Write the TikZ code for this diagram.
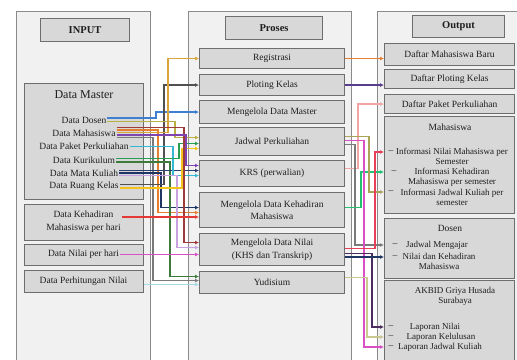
\documentclass[tikz,border=0pt]{standalone}
\usepackage{fontspec}
\setmainfont{Liberation Serif}
\usetikzlibrary{arrows.meta}
\definecolor{colframe}{HTML}{8A8A8A}
\definecolor{colpanel}{HTML}{F1F1F1}
\definecolor{colbox}{HTML}{6E6E6E}
\definecolor{colfill}{HTML}{D8D8D8}
\definecolor{coltext}{HTML}{1E1E1E}
\definecolor{cgold}{HTML}{D9A43A}
\definecolor{cdgray}{HTML}{505050}
\definecolor{cblue}{HTML}{3F7FCF}
\definecolor{colive}{HTML}{B8B040}
\definecolor{cgreen}{HTML}{2A9D55}
\definecolor{cyellow}{HTML}{F2C31B}
\definecolor{cpurple}{HTML}{7E44B0}
\definecolor{cnavy}{HTML}{2C3E70}
\definecolor{ccyan}{HTML}{35B9D3}
\definecolor{cnavyb}{HTML}{1F3566}
\definecolor{corange}{HTML}{E67E30}
\definecolor{cred}{HTML}{E53935}
\definecolor{cbrown}{HTML}{9E3B3B}
\definecolor{clav}{HTML}{C8A2E0}
\definecolor{cmagenta}{HTML}{D94FC4}
\definecolor{cdkgreen}{HTML}{3D7B3D}
\definecolor{cgray}{HTML}{7A7A7A}
\definecolor{clcyan}{HTML}{A6DBE6}
\definecolor{cpink}{HTML}{F3A5A5}
\definecolor{cviolet}{HTML}{5A3D8C}
\definecolor{colive2}{HTML}{A9A45A}
\definecolor{colive3}{HTML}{C9C98F}
\definecolor{cdkpurple}{HTML}{4B2C5E}
\definecolor{cgreen2}{HTML}{22C070}
\definecolor{cred2}{HTML}{E8405A}
\begin{document}
\begin{tikzpicture}[x=1pt,y=-1pt,
  font=\fontsize{9.5}{11}\selectfont,
  column/.style={draw=colframe, fill=colpanel, line width=1.1pt, anchor=north west, inner sep=0pt},
  box/.style={draw=colbox, fill=colfill, line width=1.1pt, anchor=north west, inner sep=0pt,
    text=coltext, align=center},
  lbl/.style={inner sep=1pt, text=coltext, align=center},
  bullet/.style={inner sep=0pt, text=coltext},
  wire/.style={line width=1.5pt, -{Latex[length=4pt,width=4pt]}},
  twoline/.style={font=\fontsize{9.5}{12.5}\selectfont},
  small/.style={font=\fontsize{9}{10.2}\selectfont},
  heading/.style={font=\fontsize{10.5}{12}\selectfont\bfseries},
]
\useasboundingbox (0,0) rectangle (517,359);
\clip (0,0) rectangle (517,359);
\fill[white] (0,0) rectangle (517,359);

% ---------- columns ----------
\node[column, minimum width=134pt, minimum height=354pt] (incol) at (16,11) {};
\node[column, minimum width=163pt, minimum height=354pt] (pcol) at (188,11) {};
\node[column, minimum width=145pt, minimum height=354pt] (ocol) at (377,11) {};

% ---------- INPUT ----------
\node[box, heading, minimum width=89pt, minimum height=23pt] (intitle) at (40,18) {INPUT};
\node[box, minimum width=119pt, minimum height=116pt] (dmbox) at (24,83) {};
\node[lbl, font=\fontsize{12}{14}\selectfont] (dmlabel) at (84,95) {Data Master};
\node[lbl] (idos) at (84,120) {Data Dosen};
\node[lbl] (imhs) at (84,133.3) {Data Mahasiswa};
\node[lbl] (ipkt) at (84,146.6) {Data Paket Perkuliahan};
\node[lbl] (ikur) at (84,159.9) {Data Kurikulum};
\node[lbl] (imk) at (84,173.2) {Data Mata Kuliah};
\node[lbl] (irk) at (84,186.5) {Data Ruang Kelas};
\node[box, minimum width=119pt, minimum height=36pt] (kehbox) at (24,204) {};
\node[lbl, twoline] (ikeh) at (83.5,221.5) {Data Kehadiran\\Mahasiswa per hari};
\node[box, minimum width=119pt, minimum height=21pt] (nphbox) at (24,244) {};
\node[lbl] (inph) at (83.5,254.5) {Data Nilai per hari};
\node[box, minimum width=119pt, minimum height=22pt] (perbox) at (24,270) {};
\node[lbl] (iper) at (83.5,281) {Data Perhitungan Nilai};

% ---------- Proses ----------
\node[box, heading, minimum width=97pt, minimum height=23pt] (ptitle) at (225,16) {Proses};
\node[box, minimum width=145pt, minimum height=20pt] (reg) at (199,48) {Registrasi};
\node[box, minimum width=145pt, minimum height=21pt] (plot) at (199,74) {Ploting Kelas};
\node[box, minimum width=145pt, minimum height=23pt] (mdm) at (199,100) {Mengelola Data Master};
\node[box, minimum width=145pt, minimum height=28pt] (jad) at (199,127) {Jadwal Perkuliahan};
\node[box, minimum width=145pt, minimum height=26pt] (krs) at (199,160) {KRS (perwalian)};
\node[box, twoline, minimum width=145pt, minimum height=35pt] (keh) at (199,192) {Mengelola Data Kehadiran\\Mahasiswa};
\node[box, twoline, minimum width=145pt, minimum height=32pt] (nil) at (199,233) {Mengelola Data Nilai\\(KHS dan Transkrip)};
\node[box, minimum width=145pt, minimum height=22pt] (yud) at (199,271) {Yudisium};

% ---------- Output ----------
\node[box, heading, minimum width=92pt, minimum height=22pt] (otitle) at (412,15) {Output};
\node[box, minimum width=130pt, minimum height=22pt] (dmb) at (384,43) {Daftar Mahasiswa Baru};
\node[box, minimum width=130pt, minimum height=19pt] (dpk) at (384,69) {Daftar Ploting Kelas};
\node[box, minimum width=130pt, minimum height=19pt] (dpp) at (384,94) {Daftar Paket Perkuliahan};

\node[box, minimum width=130pt, minimum height=97pt] (mbox) at (384,116) {};
\node[lbl] (mlabel) at (450,127) {Mahasiswa};
\node[lbl, small] (om1) at (452,156.5) {Informasi Nilai Mahasiswa per\\Semester};
\node[lbl, small] (om2) at (452,177) {Informasi Kehadiran\\Mahasiswa per semester};
\node[lbl, small] (om3) at (452,197.5) {Informasi Jadwal Kuliah per\\semester};
\node[bullet] (d1) at (391,152) {--};
\node[bullet] (d2) at (394,172) {--};
\node[bullet] (d3) at (391,192) {--};

\node[box, minimum width=130pt, minimum height=60pt] (dbox) at (384,218) {};
\node[lbl] (dlabel) at (450,228.5) {Dosen};
\node[lbl, small] (od1) at (437,245) {Jadwal Mengajar};
\node[lbl, small] (od2) at (439,261.5) {Nilai dan Kehadiran\\Mahasiswa};
\node[bullet] (d4) at (395,245) {--};
\node[bullet] (d5) at (395,257) {--};

\node[box, minimum width=130pt, minimum height=85pt] (abox) at (384,280) {};
\node[lbl, small] (alabel) at (455,296) {AKBID Griya Husada\\Surabaya};
\node[lbl, small] (oa1) at (435,327) {Laporan Nilai};
\node[lbl, small] (oa2) at (441,337) {Laporan Kelulusan};
\node[lbl, small] (oa3) at (440,347) {Laporan Jadwal Kuliah};
\node[bullet] (d6) at (391,327) {--};
\node[bullet] (d7) at (391,337) {--};
\node[bullet] (d8) at (391,347) {--};

% ---------- ports on the input items ----------
\coordinate (mhs-a) at ([yshift=6pt]imhs.east);
\coordinate (mhs-b) at ([yshift=3.5pt]imhs.east);
\coordinate (mhs-c) at ([yshift=1pt]imhs.east);
\coordinate (mhs-d) at ([yshift=-1.5pt]imhs.east);
\coordinate (mhs-e) at ([yshift=-4pt]imhs.east);
\coordinate (dos-a) at ([yshift=2pt]idos.east);
\coordinate (dos-b) at ([yshift=-1.5pt]idos.east);
\coordinate (kur-a) at ([yshift=1.5pt]ikur.east);
\coordinate (kur-b) at ([yshift=-2pt]ikur.east);
\coordinate (mk-a) at ([yshift=2.5pt]imk.east);
\coordinate (mk-b) at (imk.east);
\coordinate (mk-c) at ([yshift=-2.5pt]imk.east);
\coordinate (rk-a) at ([yshift=2pt]irk.east);
\coordinate (rk-b) at ([yshift=-1.5pt]irk.east);
\coordinate (keh-src) at ([yshift=4.5pt]ikeh.east);
\coordinate (per-src) at ([yshift=-3pt]perbox.east);

% ---------- ports on the process boxes ----------
\coordinate (jad-i1) at ([yshift=4pt]jad.west);
\coordinate (jad-i2) at ([yshift=-2pt]jad.west);
\coordinate (jad-i3) at ([yshift=-7pt]jad.west);
\coordinate (krs-i1) at ([yshift=8pt]krs.west);
\coordinate (krs-i2) at ([yshift=3pt]krs.west);
\coordinate (krs-i3) at ([yshift=-2pt]krs.west);
\coordinate (keh-i1) at ([yshift=2.5pt]keh.west);
\coordinate (keh-i2) at ([yshift=-2.5pt]keh.west);
\coordinate (nil-i1) at ([yshift=7pt]nil.west);
\coordinate (nil-i2) at ([yshift=2pt]nil.west);
\coordinate (yud-i1) at ([yshift=6pt]yud.west);
\coordinate (yud-i2) at ([yshift=2pt]yud.west);

\coordinate (krs-o) at ([yshift=5pt]krs.east);
\coordinate (jad-o1) at ([yshift=5pt]jad.east);
\coordinate (jad-o2) at ([yshift=1pt]jad.east);
\coordinate (jad-o3) at ([yshift=-3pt]jad.east);
\coordinate (keh-o) at ([yshift=2.5pt]keh.east);
\coordinate (nil-o1) at ([yshift=1pt]nil.east);
\coordinate (nil-o2) at ([yshift=-4pt]nil.east);
\coordinate (yud-o) at ([yshift=5pt]yud.east);

% ---------- routing columns ----------
\coordinate (t153) at (153,0);
\coordinate (t156) at (156,0);
\coordinate (t158) at (158,0);
\coordinate (t161) at (161,0);
\coordinate (t164) at (164,0);
\coordinate (t168) at (168,0);
\coordinate (t170) at (170,0);
\coordinate (t171) at (171,0);
\coordinate (t173) at (173,0);
\coordinate (t175) at (175,0);
\coordinate (t177) at (177,0);
\coordinate (t179) at (179,0);
\coordinate (t182) at (182,0);
\coordinate (t184) at (184,0);
\coordinate (t186) at (186,0);

\coordinate (u355) at (355,0);
\coordinate (u358) at (358,0);
\coordinate (u361) at (361,0);
\coordinate (u364) at (364,0);
\coordinate (u367) at (367,0);
\coordinate (u369) at (369,0);
\coordinate (u372) at (372,0);
\coordinate (u375) at (375,0);

% ---------- input -> process ----------
\draw[wire, cgray]    (mhs-e) -| (t153 |- yud-i2) -- (yud-i2);
\draw[wire, cblue]    (dos-a) -| (t156 |- mdm.west) -- (mdm.west);
\draw[wire, corange]  (mhs-b) -| (t158 |- keh-i2) -- (keh-i2);
\draw[wire, cnavyb]   (mk-b)  -| (t161 |- keh-i1) -- (keh-i1);
\draw[wire, cdgray]   (rk-a)  -| (t164 |- plot.west) -- (plot.west);
\draw[wire, cgold]    (mhs-c) -| (t168 |- reg.west) -- (reg.west);
\draw[wire, cdkgreen] (kur-b) -| (t170 |- yud-i1) -- (yud-i1);
\draw[wire, cnavy]    (mk-a)  -| (t171 |- krs-i2) -- (krs-i2);
\draw[wire, ccyan]    (ipkt.east) -| (t173 |- krs-i3) -- (krs-i3);
\draw[wire, colive]   (dos-b) -| (t175 |- jad-i1) -- (jad-i1);
\draw[wire, clav]     (mk-c)  -| (t177 |- nil-i2) -- (nil-i2);
\draw[wire, cgreen]   (kur-a) -| (t179 |- jad-i2) -- (jad-i2);
\draw[wire, cyellow]  (rk-b)  -| (t182 |- jad-i3) -- (jad-i3);
\draw[wire, cbrown]   (mhs-a) -| (t184 |- nil-i1) -- (nil-i1);
\draw[wire, cpurple]  (mhs-d) -| (t186 |- krs-i1) -- (krs-i1);
\draw[wire, cred]     (keh-src) -- (keh-src -| keh.west);
\draw[wire, cmagenta] (inph.east) -- (inph.east -| nil.west);
\draw[wire, clcyan]   (per-src) -- (per-src -| yud.west);

% ---------- process -> output ----------
\draw[wire, corange]   (reg.east) -- (reg.east -| dmb.west);
\draw[wire, cviolet]   (plot.east) -- (plot.east -| dpk.west);
\draw[wire, cpink]     (krs-o) -| (u358 |- dpp.west) -- (dpp.west);
\draw[wire, cgray]     (jad-o3) -| (u355 |- d4) -- (dbox.west |- d4);
\draw[wire, cgreen2]   (keh-o) -| (u361 |- d2) -- (mbox.west |- d2);
\draw[wire, cmagenta]  (jad-o2) -| (u364 |- d8) -- (abox.west |- d8);
\draw[wire, colive3]   (yud-o) -| (u367 |- d7) -- (abox.west |- d7);
\draw[wire, colive2]   (jad-o1) -| (u369 |- d3) -- (mbox.west |- d3);
\draw[wire, cdkpurple] (nil-o2) -| (u372 |- d6) -- (abox.west |- d6);
\draw[wire, cred2]     (nil-o1) -| (u375 |- d1) -- (mbox.west |- d1);
\draw[wire, cnavyb]    (nil.east |- d5) -- (dbox.west |- d5);
\end{tikzpicture}
\end{document}
